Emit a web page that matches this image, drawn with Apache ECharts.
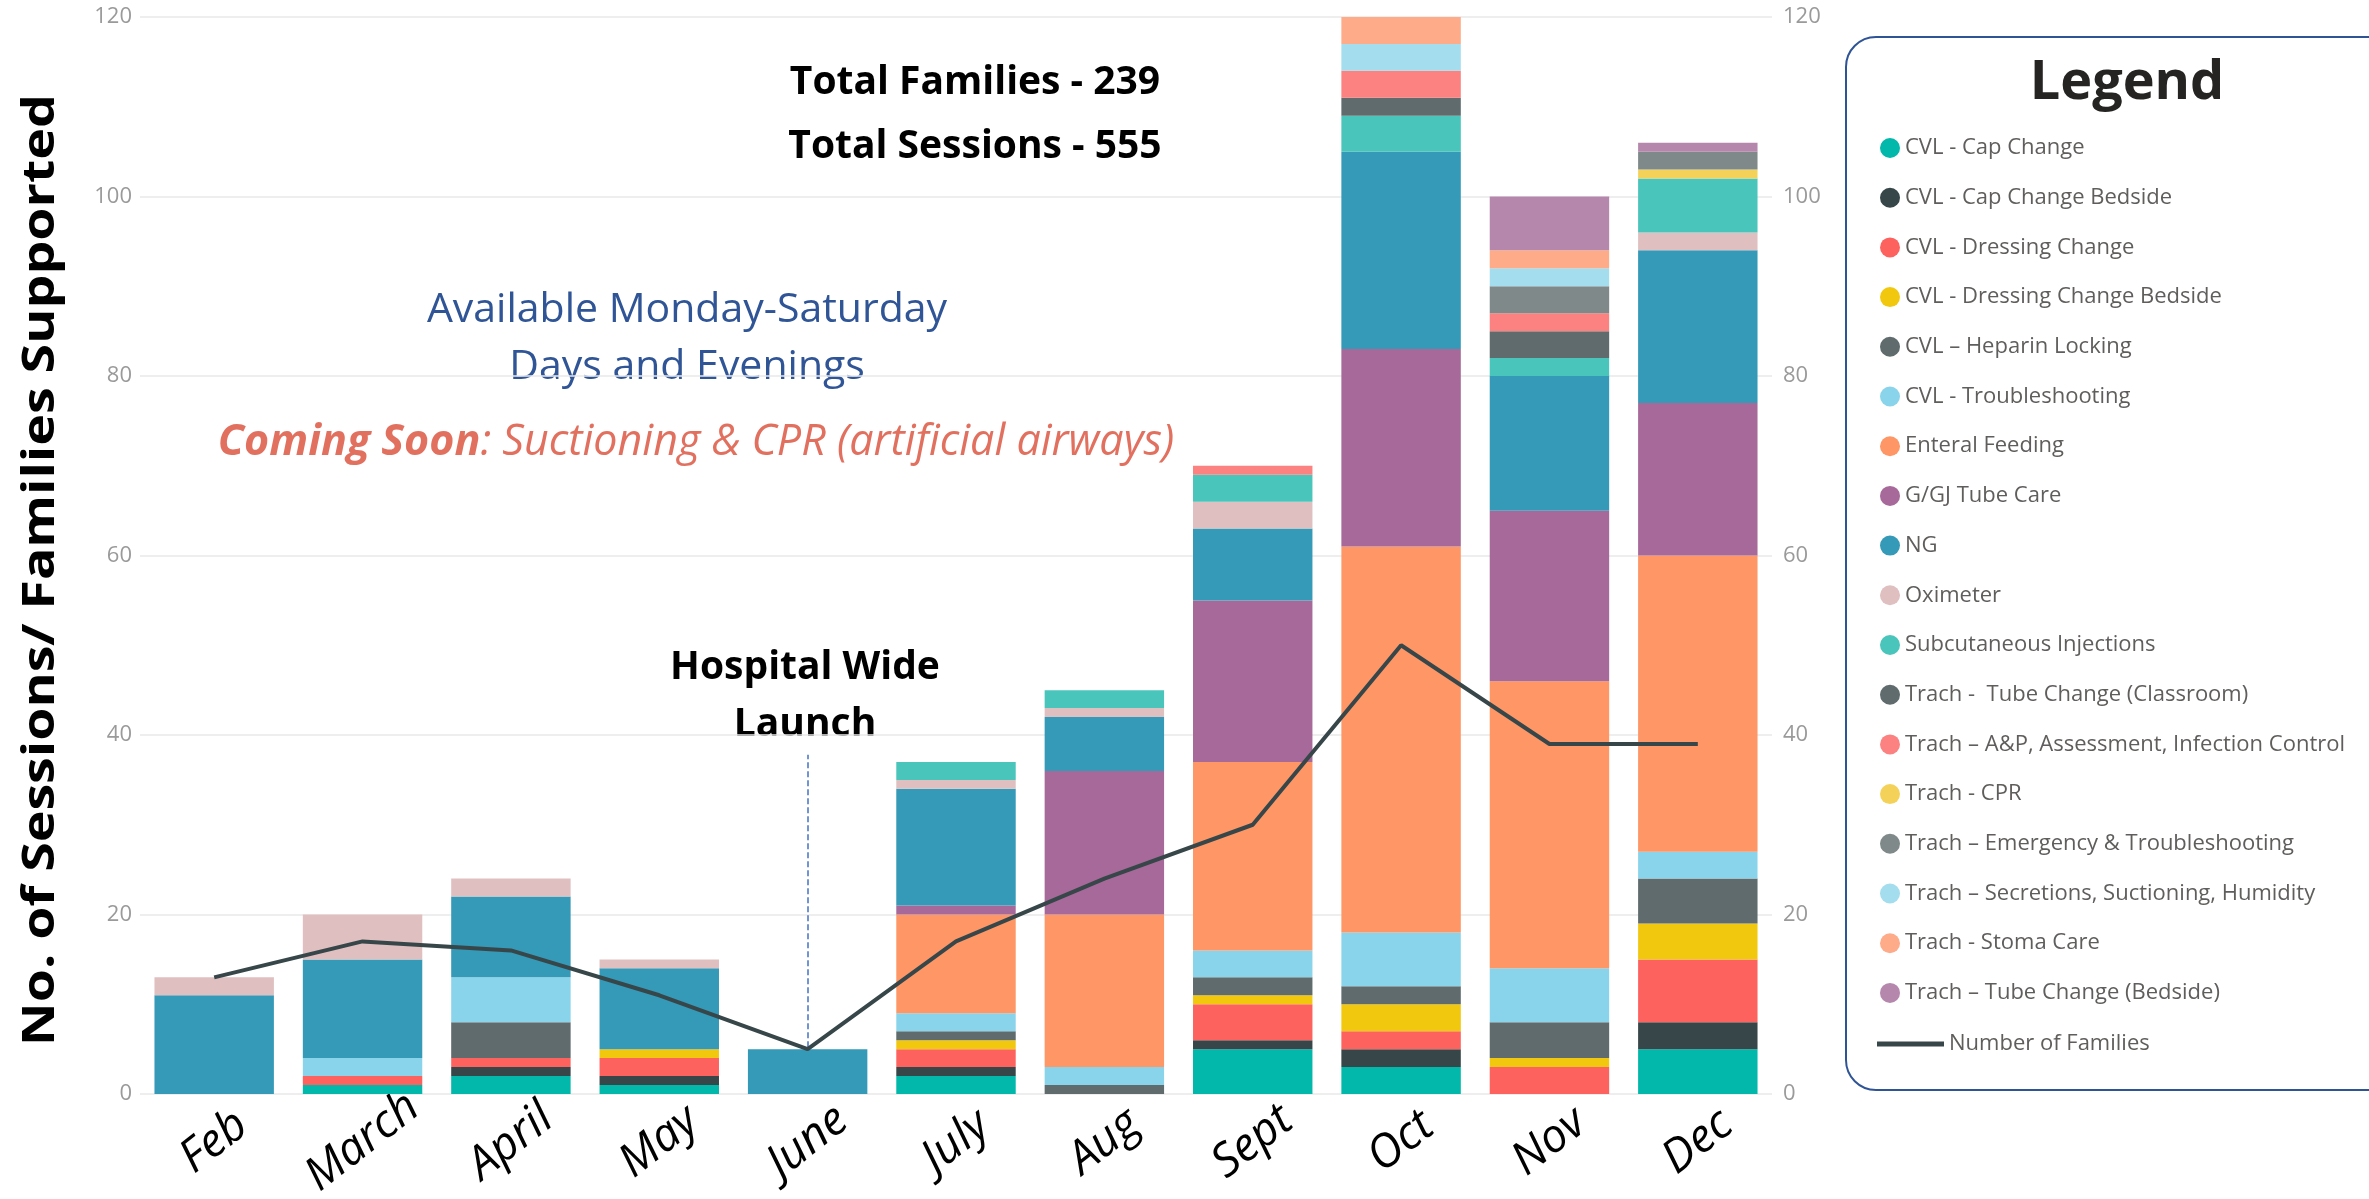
<!DOCTYPE html>
<html lang="en">
<head>
    <meta charset="UTF-8">
    <title>Sessions by month</title>
    <script src="https://cdn.jsdelivr.net/npm/echarts@6/dist/echarts.min.js"></script>
    <style>
        html, body { margin: 0; padding: 0; background: #fff; }
        #chartContainer { width: 2369px; height: 1199px; }
    </style>
</head>
<body>
<div id="chartContainer"></div>
<script type="text/javascript">
    // months on the x axis
    var months = ['Feb', 'March', 'April', 'May', 'June', 'July', 'Aug', 'Sept', 'Oct', 'Nov', 'Dec'];

    // sessions per teaching topic, one value per month (stacked bottom -> top)
    var capChange          = [0, 1, 2, 1, 0, 2, 0, 5, 3, 0, 5];
    var capChangeBedside   = [0, 0, 1, 1, 0, 1, 0, 1, 2, 0, 3];
    var dressingChange     = [0, 1, 1, 2, 0, 2, 0, 4, 2, 3, 7];
    var dressingBedside    = [0, 0, 0, 1, 0, 1, 0, 1, 3, 1, 4];
    var heparinLocking     = [0, 0, 4, 0, 0, 1, 1, 2, 2, 4, 5];
    var cvlTroubleshooting = [0, 2, 5, 0, 0, 2, 2, 3, 6, 6, 3];
    var enteralFeeding     = [0, 0, 0, 0, 0, 11, 17, 21, 43, 32, 33];
    var gTubeCare          = [0, 0, 0, 0, 0, 1, 16, 18, 22, 19, 17];
    var ng                 = [11, 11, 9, 9, 5, 13, 6, 8, 22, 15, 17];
    var oximeter           = [2, 5, 2, 1, 0, 1, 1, 3, 0, 0, 2];
    var subcutaneous       = [0, 0, 0, 0, 0, 2, 2, 3, 4, 2, 6];
    var trachClassroom     = [0, 0, 0, 0, 0, 0, 0, 0, 2, 3, 0];
    var trachAssessment    = [0, 0, 0, 0, 0, 0, 0, 1, 3, 2, 0];
    var trachCpr           = [0, 0, 0, 0, 0, 0, 0, 0, 0, 0, 1];
    var trachEmergency     = [0, 0, 0, 0, 0, 0, 0, 0, 0, 3, 2];
    var trachSecretions    = [0, 0, 0, 0, 0, 0, 0, 0, 3, 2, 0];
    var trachStoma         = [0, 0, 0, 0, 0, 0, 0, 0, 3, 2, 0];
    var trachBedside       = [0, 0, 0, 0, 0, 0, 0, 0, 0, 6, 1];

    // families supported per month (line)
    var families = [13, 17, 16, 11, 5, 17, 24, 30, 50, 39, 39];

    // y axis ticks
    var yMin = 0, yMax = 120, yStep = 20;

    var topics = [
        ['CVL - Cap Change', capChange, '#01B8AA'],
        ['CVL - Cap Change Bedside', capChangeBedside, '#374649'],
        ['CVL - Dressing Change', dressingChange, '#FD625E'],
        ['CVL - Dressing Change Bedside', dressingBedside, '#F2C80F'],
        ['CVL \u2013 Heparin Locking', heparinLocking, '#5F6B6D'],
        ['CVL - Troubleshooting', cvlTroubleshooting, '#8AD4EB'],
        ['Enteral Feeding', enteralFeeding, '#FE9666'],
        ['G/GJ Tube Care', gTubeCare, '#A66999'],
        ['NG', ng, '#3599B8'],
        ['Oximeter', oximeter, '#DFBFBF'],
        ['Subcutaneous Injections', subcutaneous, '#4AC5BB'],
        ['Trach -  Tube Change (Classroom)', trachClassroom, '#5F6B6D'],
        ['Trach \u2013 A&P, Assessment, Infection Control', trachAssessment, '#FB8281'],
        ['Trach - CPR', trachCpr, '#F4D25A'],
        ['Trach \u2013 Emergency & Troubleshooting', trachEmergency, '#7F898A'],
        ['Trach \u2013 Secretions, Suctioning, Humidity', trachSecretions, '#A4DDEE'],
        ['Trach - Stoma Care', trachStoma, '#FDAB89'],
        ['Trach \u2013 Tube Change (Bedside)', trachBedside, '#B687AC']
    ];

    var chart = echarts.init(document.getElementById('chartContainer'));

    var series = topics.map(function (t) {
        return {
            name: t[0],
            type: 'bar',
            stack: 'sessions',
            data: t[1],
            barCategoryGap: '19.5%',
            itemStyle: {color: t[2]}
        };
    });

    series.push({
        name: 'Number of Families',
        type: 'line',
        data: families,
        symbol: 'none',
        z: 5,
        lineStyle: {color: '#374649', width: 4},
        itemStyle: {color: '#374649'},
        // launch marker
        markLine: {
            silent: true,
            symbol: 'none',
            label: {show: false},
            lineStyle: {color: '#4472C4', type: 'dashed', width: 1.5},
            data: [[{coord: ['June', 5.2]}, {coord: ['June', 37.8]}]]
        }
    });

    var axisLabelStyle = {
        color: '#9a9a9a',
        fontSize: 22,
        fontFamily: 'Open Sans'
    };
    var legendText = {fontSize: 22, lineHeight: 22, color: '#605E5C', fontFamily: 'Open Sans'};

    var option = {
        animation: false,
        backgroundColor: '#ffffff',
        grid: {left: 140, right: 597, top: 17, bottom: 105, containLabel: false, outerBoundsMode: 'none'},
        xAxis: {
            type: 'category',
            data: months,
            axisLine: {show: false},
            axisTick: {show: false},
            axisLabel: {
                rotate: 38,
                align: 'center',
                verticalAlign: 'middle',
                margin: 48,
                fontStyle: 'italic',
                fontSize: 46,
                color: '#000',
                fontFamily: 'Open Sans'
            }
        },
        yAxis: [
            {
                type: 'value', min: yMin, max: yMax, interval: yStep,
                axisLine: {show: false}, axisTick: {show: false},
                axisLabel: Object.assign({margin: 8}, axisLabelStyle),
                splitLine: {lineStyle: {color: '#e9e9e9', width: 1.5}}
            },
            {
                type: 'value', position: 'right', min: yMin, max: yMax, interval: yStep,
                axisLine: {show: false}, axisTick: {show: false},
                axisLabel: Object.assign({margin: 11}, axisLabelStyle),
                splitLine: {show: false}
            }
        ],
        legend: [
            {
                orient: 'vertical',
                left: 1875,
                top: 132,
                icon: 'circle',
                itemWidth: 20,
                itemHeight: 20,
                itemGap: 27.7,
                data: topics.map(function (t) { return t[0]; }),
                textStyle: legendText
            },
            {
                orient: 'vertical',
                left: 1872,
                top: 1028,
                itemWidth: 67,
                itemHeight: 5,
                data: [{name: 'Number of Families', icon: 'rect'}],
                textStyle: legendText
            }
        ],
        graphic: [
            // legend frame
            {
                type: 'rect', z: -1, silent: true,
                shape: {x: 1846, y: 37, width: 620, height: 1053, r: 30},
                style: {fill: '#fff', stroke: '#2F5496', lineWidth: 2}
            },
            {
                type: 'text', x: 2127, y: 84,
                style: {text: 'Legend', fill: '#252423', font: 'bold 54px "Open Sans"', textAlign: 'center', textVerticalAlign: 'middle'}
            },
            // axis title
            {
                type: 'text', x: 41, y: 570, rotation: Math.PI / 2, scaleX: 1.22,
                style: {text: 'No. of Sessions/ Families Supported', fill: '#000', font: 'bold 44px "Open Sans"', textAlign: 'center', textVerticalAlign: 'middle'}
            },
            // totals
            {
                type: 'text', x: 975, y: 83,
                style: {text: 'Total Families - 239', fill: '#000', font: 'bold 39px "Open Sans"', textAlign: 'center', textVerticalAlign: 'middle'}
            },
            {
                type: 'text', x: 975, y: 147,
                style: {text: 'Total Sessions - 555', fill: '#000', font: 'bold 39px "Open Sans"', textAlign: 'center', textVerticalAlign: 'middle'}
            },
            // text box backgrounds that fade the gridlines
            {
                type: 'rect', silent: true,
                shape: {x: 355, y: 280, width: 600, height: 115},
                style: {fill: 'rgba(255,255,255,0.75)'}
            },
            {
                type: 'rect', silent: true,
                shape: {x: 660, y: 640, width: 300, height: 108},
                style: {fill: 'rgba(255,255,255,0.75)'}
            },
            // availability note
            {
                type: 'text', x: 687, y: 310,
                style: {text: 'Available Monday-Saturday', fill: '#2F5597', font: '41px "Open Sans"', textAlign: 'center', textVerticalAlign: 'middle'}
            },
            {
                type: 'text', x: 687, y: 367,
                style: {text: 'Days and Evenings', fill: '#2F5597', font: '41px "Open Sans"', textAlign: 'center', textVerticalAlign: 'middle'}
            },
            {
                type: 'text', x: 696, y: 443,
                style: {
                    text: '{b|Coming Soon}{n|: Suctioning & CPR (artificial airways)}',
                    textAlign: 'center', textVerticalAlign: 'middle',
                    rich: {
                        b: {fill: '#E2705F', fontSize: 43, fontWeight: 'bold', fontStyle: 'italic', fontFamily: 'Open Sans'},
                        n: {fill: '#E2705F', fontSize: 43, fontStyle: 'italic', fontFamily: 'Open Sans'}
                    }
                }
            },
            // launch label
            {
                type: 'text', x: 805, y: 668,
                style: {text: 'Hospital Wide', fill: '#000', font: 'bold 39px "Open Sans"', textAlign: 'center', textVerticalAlign: 'middle'}
            },
            {
                type: 'text', x: 805, y: 725,
                style: {text: 'Launch', fill: '#000', font: 'bold 39px "Open Sans"', textAlign: 'center', textVerticalAlign: 'middle'}
            }
        ],
        series: series
    };

    chart.setOption(option);
</script>
</body>
</html>
